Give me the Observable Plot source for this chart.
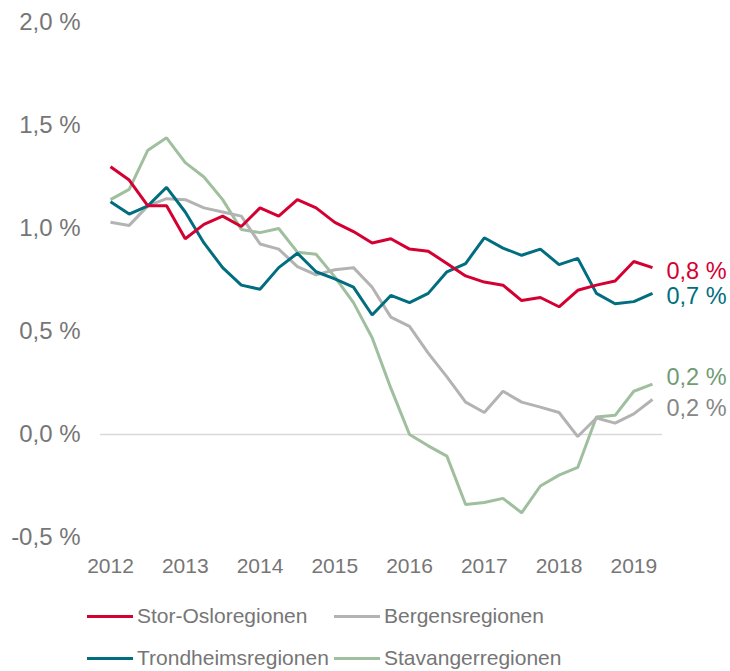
<!DOCTYPE html>
<html>
<head>
<meta charset="utf-8">
<script src="https://cdn.jsdelivr.net/npm/d3@7"></script>
<script src="https://cdn.jsdelivr.net/npm/@observablehq/plot@0.6"></script>
<style>
  body { margin: 0; background: #fff; font-family: "Liberation Sans", Arial, sans-serif; }
  #legend { margin: 15px 0 0 87px; display: grid; grid-template-columns: 247px auto; font-size: 21px; color: #767676; }
  .item { display: flex; align-items: center; height: 42px; }
  .sw { width: 46px; height: 3px; margin-right: 4px; }
  .yax text { font-size: 24px; }
</style>
</head>
<body>
<div id="chart"></div>
<div id="legend"></div>
<script>
const periods = ["2012K1","2012K2","2012K3","2012K4","2013K1","2013K2","2013K3","2013K4",
  "2014K1","2014K2","2014K3","2014K4","2015K1","2015K2","2015K3","2015K4",
  "2016K1","2016K2","2016K3","2016K4","2017K1","2017K2","2017K3","2017K4",
  "2018K1","2018K2","2018K3","2018K4","2019K1","2019K2"];
const yearTicks = [2012, 2013, 2014, 2015, 2016, 2017, 2018, 2019];
const yTicks = [-0.5, 0, 0.5, 1.0, 1.5, 2.0];

const seriesNames = ["Stor-Osloregionen", "Bergensregionen", "Trondheimsregionen", "Stavangerregionen"];
const oslo = [1.30,1.235,1.11,1.11,0.95,1.02,1.06,1.01,1.10,1.06,1.14,1.10,1.03,0.985,0.93,0.95,0.90,0.89,0.83,0.77,0.74,0.725,0.65,0.665,0.62,0.70,0.725,0.745,0.84,0.81];
const bergen = [1.03,1.015,1.11,1.145,1.14,1.10,1.08,1.06,0.925,0.90,0.815,0.775,0.80,0.81,0.715,0.57,0.525,0.395,0.28,0.157,0.107,0.21,0.157,0.133,0.107,-0.01,0.08,0.055,0.10,0.17];
const trondheim = [1.13,1.07,1.11,1.20,1.08,0.93,0.81,0.725,0.705,0.81,0.88,0.79,0.755,0.715,0.58,0.675,0.64,0.685,0.79,0.83,0.955,0.905,0.87,0.90,0.825,0.855,0.685,0.635,0.645,0.685];
const stavanger = [1.14,1.19,1.38,1.44,1.32,1.25,1.14,0.995,0.98,1.00,0.885,0.875,0.765,0.64,0.47,0.225,0.0,-0.055,-0.105,-0.34,-0.33,-0.31,-0.38,-0.25,-0.197,-0.16,0.085,0.093,0.21,0.245];
const endLabels = ["0,8 %", "0,2 %", "0,7 %", "0,2 %"];

const lineColors = ["#d50032", "#b3b3b3", "#006e7f", "#9fbf9f"];
const labelColors = ["#d50032", "#878787", "#006e7f", "#6f9c73"];
const labelDy = [4, 9, 3, -7];

const valuesList = [oslo, bergen, trondheim, stavanger];
const toT = p => +p.slice(0, 4) + (+p.slice(5) - 1) / 4;
const rows = [];
seriesNames.forEach((s, si) => periods.forEach((p, i) => rows.push({series: s, t: toT(p), v: valuesList[si][i]})));
const ends = seriesNames.map((s, si) => ({series: s, t: toT(periods[periods.length - 1]), v: valuesList[si][periods.length - 1], label: endLabels[si], si}));

const fmt = d => d.toFixed(1).replace(".", ",") + " %";
const drawOrder = [3, 1, 2, 0];

const plot = Plot.plot({
  width: 730,
  height: 580,
  marginTop: 22,
  marginBottom: 43,
  marginLeft: 110,
  marginRight: 78,
  style: { fontFamily: "'Liberation Sans', Arial, sans-serif", fontSize: "21px", color: "#767676", background: "#fff" },
  x: { domain: [2012, 2019.25], ticks: yearTicks, tickFormat: d => String(d), tickSize: 0, tickPadding: 21, label: null },
  y: { domain: [-0.5, 2.0], label: null },
  marks: [
    Plot.axisY(yTicks, { tickFormat: fmt, tickSize: 0, tickPadding: 30, label: null, className: "yax" }),
    Plot.ruleY([0], { stroke: "#d9d9d9", strokeWidth: 1.5, insetLeft: -10, insetRight: -10 }),
    ...drawOrder.map(si => Plot.line(rows.filter(r => r.series === seriesNames[si]), {
      x: "t", y: "v", stroke: lineColors[si], strokeWidth: 3, strokeLinejoin: "miter", strokeLinecap: "butt"
    })),
    ...ends.map(e => Plot.text([e], {
      x: "t", y: "v", text: "label", fill: labelColors[e.si], textAnchor: "start", dx: 14, dy: labelDy[e.si], fontSize: 23.5
    }))
  ]
});
document.getElementById("chart").appendChild(plot);

const legendOrder = [0, 1, 2, 3];
const legend = document.getElementById("legend");
legendOrder.forEach(si => {
  const item = document.createElement("div");
  item.className = "item";
  const sw = document.createElement("span");
  sw.className = "sw";
  sw.style.background = lineColors[si];
  const tx = document.createElement("span");
  tx.textContent = seriesNames[si];
  item.appendChild(sw);
  item.appendChild(tx);
  legend.appendChild(item);
});
</script>
</body>
</html>
